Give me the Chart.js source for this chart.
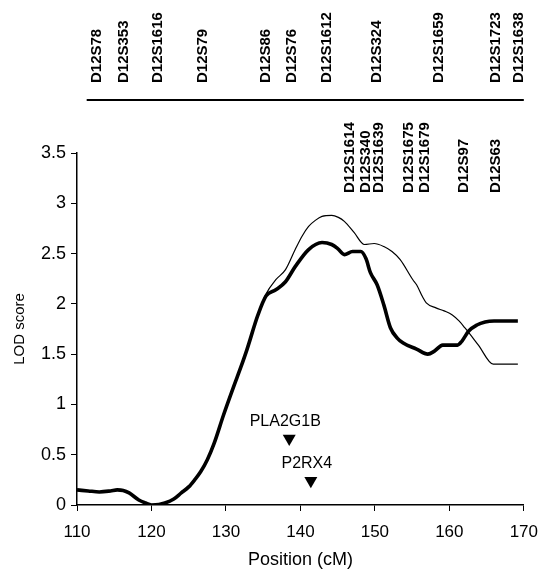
<!DOCTYPE html>
<html>
<head>
<meta charset="utf-8">
<script src="https://cdn.jsdelivr.net/npm/chart.js@4.4.0/dist/chart.umd.min.js"></script>
<style>
  html, body { margin: 0; padding: 0; background: #fff; }
</style>
</head>
<body>
<canvas id="lodChart" width="549" height="569"></canvas>
<script>
// LOD curves (position in cM, LOD score)
const boldPos = [110, 111.5, 113, 114.5, 115.4, 116.2, 117, 118.3, 119.2, 120, 121, 121.8, 123, 124, 125, 125.8,
  126.6, 127.5, 128.4, 129.7, 131, 132, 132.8, 134.3, 135.4, 136.7, 138, 139.3, 141.1, 142.9, 144.2, 145,
  145.9, 147, 148.1, 148.8, 149.4, 150.3, 151.2, 152.1, 153, 153.8, 155.6, 157.1, 158, 159.1, 161.1, 161.7,
  162.6, 163.7, 164.8, 166, 169.2];
const boldLod = [0.15, 0.14, 0.13, 0.14, 0.15, 0.145, 0.12, 0.05, 0.02, 0.0, 0.005, 0.02, 0.06, 0.12, 0.18, 0.25,
  0.33, 0.45, 0.61, 0.9, 1.17, 1.37, 1.54, 1.89, 2.08, 2.14, 2.22, 2.37, 2.54, 2.61, 2.59, 2.55,
  2.49, 2.52, 2.52, 2.45, 2.31, 2.19, 1.99, 1.76, 1.66, 1.61, 1.55, 1.5, 1.53, 1.59, 1.59, 1.63,
  1.73, 1.79, 1.82, 1.83, 1.83];

const thinPos = [134.3, 135.4, 136.7, 138, 139.3, 140.2, 141.1, 142, 142.9, 144.2, 145.1, 145.9, 147.2, 148.6,
  149.9, 151.2, 152.3, 153.4, 155.1, 155.6, 156.4, 156.9, 158.2, 159.3, 160.4, 161.3, 162.1, 163.9, 165.9, 169.2];
const thinLod = [1.89, 2.1, 2.24, 2.34, 2.54, 2.67, 2.77, 2.83, 2.87, 2.88, 2.86, 2.82, 2.71, 2.59,
  2.6, 2.57, 2.52, 2.44, 2.24, 2.19, 2.07, 2.01, 1.96, 1.93, 1.89, 1.83, 1.76, 1.59, 1.4, 1.4];

// marker map
const topMarkers = ['D12S78', 'D12S353', 'D12S1616', 'D12S79', 'D12S86', 'D12S76', 'D12S1612', 'D12S324',
  'D12S1659', 'D12S1723', 'D12S1638'];
const topMarkerPos = [112.7, 116.3, 120.9, 126.9, 135.3, 138.9, 143.5, 150.3, 158.6, 166.3, 169.3];
const lowMarkers = ['D12S1614', 'D12S340', 'D12S1639', 'D12S1675', 'D12S1679', 'D12S97', 'D12S63'];
const lowMarkerPos = [146.6, 148.8, 150.5, 154.5, 156.7, 162.0, 166.3];

// candidate genes
const genes = ['PLA2G1B', 'P2RX4'];
const genePos = [138.5, 141.4];
const geneArrowLod = [0.66, 0.24];

const xTicks = [110, 170, 10];
const yTicks = [0, 3.5, 0.5];

const FONT = '"Liberation Sans", Arial, Helvetica, sans-serif';

const markerPlugin = {
  id: 'markerMap',
  afterDraw(chart) {
    const { ctx, chartArea, scales: { x, y } } = chart;
    ctx.save();
    ctx.fillStyle = '#000';
    ctx.strokeStyle = '#000';

    const vertical = (text, px, py) => {
      ctx.save();
      ctx.translate(px, py);
      ctx.rotate(-Math.PI / 2);
      ctx.fillText(text, 0, 0);
      ctx.restore();
    };

    ctx.font = 'bold 15px ' + FONT;
    ctx.textAlign = 'left';
    ctx.textBaseline = 'middle';
    topMarkers.forEach((m, i) => vertical(m, x.getPixelForValue(topMarkerPos[i]), chartArea.top - 70));
    lowMarkers.forEach((m, i) => vertical(m, x.getPixelForValue(lowMarkerPos[i]), chartArea.top + 40));

    // map line
    const ly = chartArea.top - 53;
    ctx.lineWidth = 2;
    ctx.beginPath();
    ctx.moveTo(x.getPixelForValue(111.3), ly);
    ctx.lineTo(chartArea.right, ly);
    ctx.stroke();

    // gene names above arrows
    ctx.font = '16px ' + FONT;
    ctx.textAlign = 'center';
    genes.forEach((g, i) => {
      ctx.fillText(g, x.getPixelForValue(genePos[i]) - 4, y.getPixelForValue(geneArrowLod[i]) - 17);
    });
    ctx.restore();
  }
};

const ctx = document.getElementById('lodChart').getContext('2d');
const chart = new Chart(ctx, {
  type: 'line',
  data: {
    datasets: [
      {
        label: 'thin',
        data: thinPos.map((p, i) => ({ x: p, y: thinLod[i] })),
        borderColor: '#000',
        borderWidth: 1.2,
        pointRadius: 0,
        cubicInterpolationMode: 'monotone',
        fill: false
      },
      {
        label: 'bold',
        data: boldPos.map((p, i) => ({ x: p, y: boldLod[i] })),
        borderColor: '#000',
        borderWidth: 3.6,
        pointRadius: 0,
        cubicInterpolationMode: 'monotone',
        fill: false
      },
      {
        label: 'genes',
        type: 'scatter',
        data: genePos.map((p, i) => ({ x: p, y: geneArrowLod[i] })),
        pointStyle: 'triangle',
        rotation: 180,
        pointRadius: 7.5,
        backgroundColor: '#000',
        borderColor: '#000',
        borderWidth: 0
      }
    ]
  },
  options: {
    responsive: false,
    animation: false,
    layout: { padding: { top: 153, right: 16, left: 0, bottom: 0 } },
    plugins: {
      legend: { display: false },
      tooltip: { enabled: false },
      title: { display: false }
    },
    scales: {
      x: {
        type: 'linear',
        min: xTicks[0],
        max: xTicks[1],
        afterFit: (s) => { s.height = 64; },
        ticks: { stepSize: xTicks[2], color: '#000', padding: 11, font: { family: FONT, size: 17 } },
        grid: { display: true, drawOnChartArea: false, drawTicks: true, tickLength: 6, color: '#000' },
        border: { display: true, color: '#000', width: 1.5 },
        title: {
          display: true,
          text: 'Position (cM)',
          color: '#000',
          font: { family: FONT, size: 18, lineHeight: 1 },
          padding: { top: 0, bottom: 0 }
        }
      },
      y: {
        min: yTicks[0],
        max: yTicks[1],
        afterFit: (s) => { s.width = 77; },
        ticks: {
          stepSize: yTicks[2],
          color: '#000',
          padding: 5,
          font: { family: FONT, size: 18 },
          callback: (v) => String(Number(v))
        },
        grid: { display: true, drawOnChartArea: false, drawTicks: true, tickLength: 6, color: '#000' },
        border: { display: true, color: '#000', width: 1.5 },
        title: {
          display: true,
          text: 'LOD score',
          color: '#000',
          font: { family: FONT, size: 15 },
          padding: { top: 11, bottom: 0 }
        }
      }
    }
  },
  plugins: [markerPlugin]
});
</script>
</body>
</html>
